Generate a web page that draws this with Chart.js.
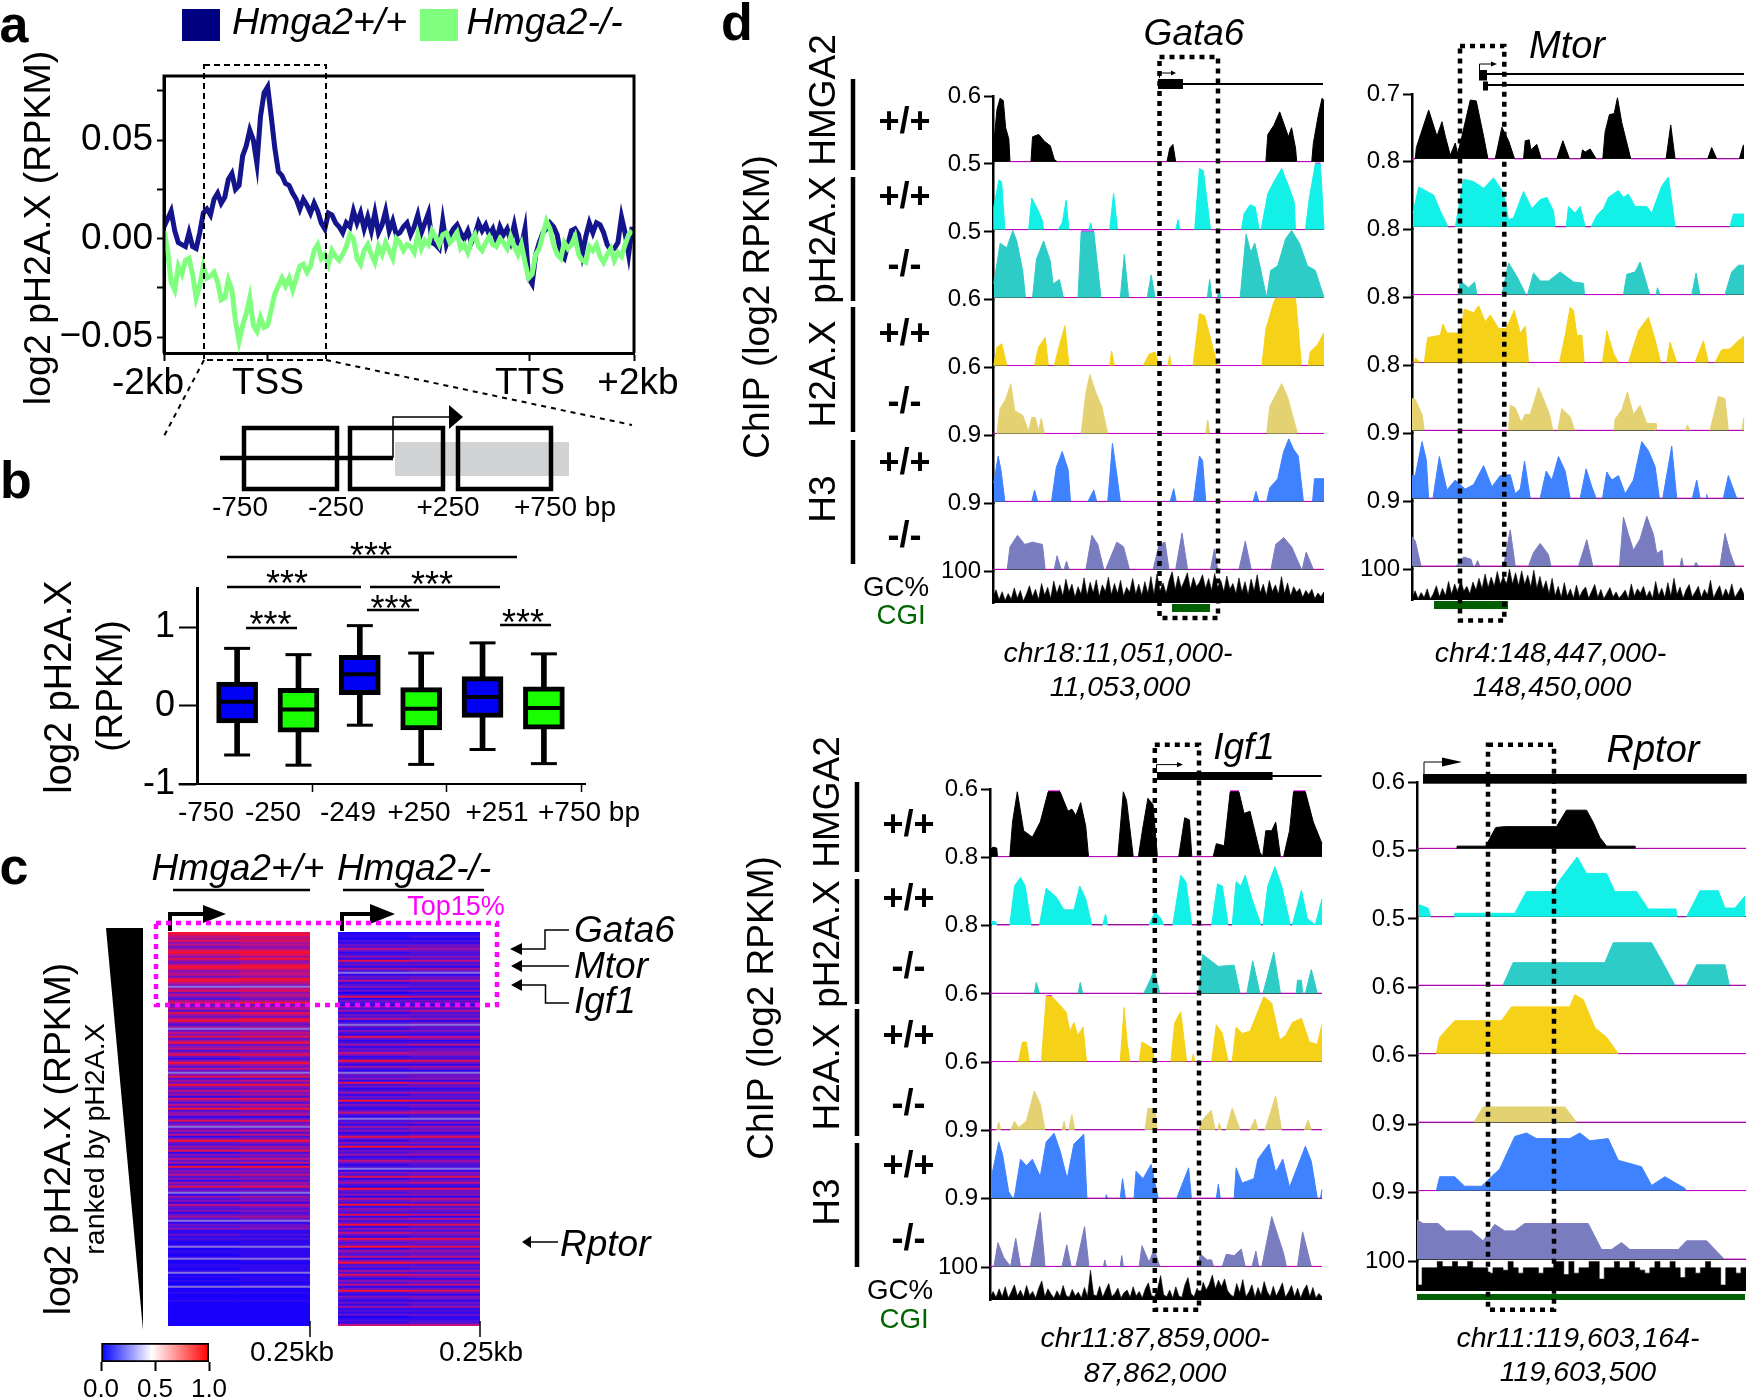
<!DOCTYPE html>
<html>
<head>
<meta charset="utf-8">
<title>pH2A.X ChIP figure</title>
<script src="https://cdn.jsdelivr.net/npm/chart.js@4"></script>
<style>
  html, body { margin: 0; background: #fff; }
  #fig { position: relative; width: 1747px; height: 1399px; overflow: hidden; font-family: "Liberation Sans", Arial, sans-serif; color: #000; }
  #fig canvas { position: absolute; }
  #fig svg { position: absolute; left: 0; top: 0; }
  .t { position: absolute; white-space: nowrap; line-height: 1; }
</style>
</head>
<body>
<div id="fig"></div>
<script>
// ---- panel a: metagene profile, one value per bin, in 0.001 log2 units
const profileTicks = [0, 29, 102.4, 131.5];
const profileWT = [6,10,14,4,-2,-3,-4,3,-4,-5,3,13,15,12,20,23,18,21,30,33,25,27,42,47,55,50,38,62,74,77,62,46,34,32,28,27,23,20,15,20,17,13,18,14,8,5,13,12,8,6,3,8,6,14,8,13,5,11,4,13,3,7,14,4,9,2,3,6,8,2,6,12,3,8,13,-2,-3,-5,9,-3,2,5,7,3,0,4,-2,2,8,4,7,2,5,-1,6,2,5,-1,7,-2,-4,5,-20,-23,-8,-2,3,5,8,6,2,-8,-10,-3,4,5,2,-8,1,8,3,8,7,3,-3,-6,-5,-2,11,3,-8,6];
const profileKO = [4,-6,-22,-26,-14,-18,-11,-10,-18,-30,-24,-14,-20,-19,-17,-22,-31,-30,-21,-26,-42,-52,-44,-38,-30,-44,-47,-40,-45,-44,-36,-28,-24,-20,-24,-20,-26,-20,-14,-13,-17,-14,-6,-3,-10,-8,-13,-6,-9,-11,-8,-4,2,0,-10,-13,-6,-3,-8,-12,-4,-8,-2,-6,-10,0,-2,-6,-3,-4,-7,2,-5,-1,-3,4,1,-3,2,3,-2,0,3,-5,-3,-7,-1,2,-4,-6,-2,1,-3,-4,0,-2,-5,1,-4,-8,-3,-12,-20,-18,-8,-5,2,9,5,-3,-8,-10,-2,-5,-3,1,-8,-11,-12,-4,-6,-3,-9,-12,-8,-5,-11,-7,-9,-3,2,4];

// ---- panel b: box plots
const boxPositions = [1, 2, 3, 4, 5, 6];
const boxQ1 = [-0.22, -0.34, 0.14, -0.31, -0.15, -0.30];
const boxQ3 = [0.30, 0.22, 0.64, 0.23, 0.37, 0.24];
const boxMedian = [0.05, -0.05, 0.40, -0.04, 0.11, -0.03];
const boxLow = [-0.63, -0.76, -0.25, -0.75, -0.56, -0.74];
const boxHigh = [0.73, 0.65, 1.02, 0.67, 0.80, 0.66];
const boxColors = ['#0000f5', '#19ff00', '#0000f5', '#19ff00', '#0000f5', '#19ff00'];
const boxAxisTicks = [-1, 0, 1];
const boxBinTicks = [1.125, 3.32, 5.52];

// ---- panel c: heatmap rows, two bins per gene row (0 = low ... 8 = high, 9 = pale streak)
const heatShades = ['#1800fc', '#3008f0', '#4c10dc', '#6c10c8', '#8a10b4', '#a0109c', '#c01080', '#e01050', '#f81030', '#8a70dc'];
const heatWT_a = [8,7,6,5,7,4,6,3,5,7,8,6,4,7,5,3,6,8,7,4,5,6,3,7,8,6,4,9,5,7,3,6,4,2,5,7,3,4,6,2,
  7,5,3,6,8,4,2,5,9,3,6,4,7,2,5,8,3,4,6,2,5,7,3,1,4,8,5,2,6,3,9,4,7,2,5,3,8,4,2,6,
  3,5,1,7,4,2,6,3,8,2,4,5,1,3,7,2,4,9,3,5,2,6,1,4,8,3,2,5,3,7,1,4,2,6,3,5,1,8,2,4,
  3,6,2,4,1,5,3,7,2,3,9,1,5,2,4,1,6,3,2,4,1,3,5,2,9,1,3,2,4,1,1,3,1,2,1,0,1,9,0,1,
  1,0,1,9,0,0,1,1,0,1,9,0,1,0,1,0,0,9,0,0,1,0,0,0,1,0,0,0,0,0,0,0,0,0,0,0,0];
const heatWT_b = [7,8,6,6,7,5,6,4,5,7,8,7,5,8,5,4,7,8,7,5,6,6,4,8,7,6,4,9,6,7,4,6,5,3,5,8,3,5,6,3,
  7,6,3,7,8,4,3,5,9,4,6,5,7,3,5,8,3,5,6,3,5,7,4,2,4,8,5,3,6,3,9,5,7,2,6,3,8,4,3,6,
  4,5,2,7,5,2,6,4,8,3,4,6,1,3,7,3,4,9,3,6,2,6,2,4,8,4,2,5,4,7,2,4,3,6,3,6,1,8,3,4,
  3,6,3,4,2,5,4,7,2,3,9,2,5,3,4,1,6,4,2,4,2,3,5,3,9,1,3,3,4,1,1,2,1,2,1,1,1,9,1,1,
  1,1,1,9,1,0,1,1,1,1,9,0,1,1,1,0,1,9,0,0,1,0,0,0,1,0,0,0,0,0,0,0,0,0,0,0,0];
const heatKO_a = [0,1,1,0,2,1,3,2,6,3,1,2,4,1,7,2,3,1,5,2,9,1,3,2,6,1,2,4,1,3,0,2,7,1,3,2,1,4,2,5,
  1,3,2,6,1,2,9,3,1,4,2,1,7,3,1,2,5,1,3,2,6,4,1,2,8,3,1,5,2,1,9,3,2,4,1,7,2,3,1,2,
  5,1,3,2,8,1,4,2,1,3,6,2,1,9,2,3,1,5,2,4,1,2,7,3,1,4,2,8,1,3,2,5,1,2,6,3,1,2,9,1,
  4,2,7,1,3,5,2,1,8,3,2,4,1,6,3,2,8,1,4,3,2,7,1,5,2,3,8,1,4,2,6,3,1,7,4,2,3,8,1,5,
  3,2,6,1,4,8,2,3,1,5,2,7,3,1,4,2,6,1,3,8,2,1,4,2,1,3,1,5,1,2,1,3,0,1,2,1,6];
const heatKO_b = [0,1,2,0,2,1,3,3,5,3,2,2,4,2,6,2,3,1,5,3,9,1,3,3,6,2,2,3,1,4,1,2,6,1,3,3,1,4,2,6,
  2,3,2,5,1,3,9,3,2,4,2,1,6,4,1,2,6,1,3,3,5,4,2,2,7,3,1,5,3,1,9,3,3,4,1,6,3,3,1,2,
  5,2,3,2,7,1,4,3,1,4,6,2,2,9,2,4,1,5,3,4,1,3,7,3,2,4,2,7,1,3,3,5,1,2,5,3,2,2,9,1,
  4,3,7,2,3,6,2,1,7,3,3,4,1,6,4,2,7,2,4,3,2,6,1,6,2,3,7,2,4,2,5,3,2,7,4,3,3,7,2,5,
  3,3,6,1,4,7,2,3,2,5,2,6,4,1,4,3,6,1,3,7,3,1,4,3,1,3,2,5,1,2,1,3,1,1,2,2,6];
const scaleStops = ['#0000ff', '#ffffff', '#ff0000'];
const scaleTicks = [0, 0.5, 1];

// ---- panel d: tracks, flat lists of position, signal pairs
const gata6_ticks = ['0.6', '0.5', '0.5', '0.6', '0.6', '0.9', '0.9', '100'];
const gata6_hmga2 = [690,0,692,40,700,115,708,140,716,135,722,75,730,50,733,0,786,0,790,55,806,60,820,45,835,35,845,5,852,0,1130,0,1137,30,1145,38,1152,0,1380,0,1385,60,1400,80,1415,110,1425,85,1437,55,1445,75,1455,30,1458,0,1496,0,1500,40,1512,100,1522,140,1527,135];
const gata6_ph2ax_wt = [692,0,692,50,705,110,712,105,720,0,780,0,788,70,800,50,815,20,818,0,855,0,865,15,875,65,882,0,932,0,937,15,941,0,985,0,995,80,1005,0,1152,0,1158,22,1163,0,1200,0,1212,135,1222,130,1240,0,1318,0,1325,35,1340,55,1353,50,1363,0,1368,0,1385,80,1400,105,1420,135,1440,90,1452,60,1455,0,1480,0,1490,70,1505,145,1518,145,1527,0];
const gata6_ph2ax_ko = [692,30,708,120,725,110,740,148,750,125,765,60,772,0,790,0,800,85,818,125,835,80,842,30,850,35,858,40,868,0,905,0,913,145,945,145,963,0,1012,0,1022,95,1033,0,1080,0,1090,50,1100,0,1232,0,1238,40,1243,0,1257,0,1262,15,1266,0,1315,0,1330,140,1342,100,1352,120,1365,70,1372,40,1382,0,1392,60,1410,70,1430,130,1445,148,1465,120,1485,70,1505,60,1527,0];
const gata6_h2ax_wt = [692,0,700,40,712,48,725,0,795,0,805,40,822,62,830,0,845,0,855,35,872,88,882,0,985,0,990,32,997,0,1070,0,1085,25,1100,30,1110,0,1132,0,1137,22,1140,0,1196,0,1212,115,1225,110,1258,0,1370,0,1380,80,1400,140,1405,148,1455,148,1470,0,1487,0,1492,30,1510,45,1527,72];
const gata6_h2ax_ko = [700,0,708,55,722,75,735,110,745,50,765,40,780,5,788,35,797,35,805,5,812,33,820,0,913,0,925,90,935,130,950,90,965,60,980,0,1228,0,1233,30,1238,0,1382,0,1390,60,1420,110,1435,80,1460,0];
const gata6_h3_wt = [692,40,703,100,710,70,720,0,788,0,795,25,803,0,838,0,850,75,865,110,880,70,886,0,930,0,945,25,952,0,980,0,985,50,992,128,1003,60,1012,0,1138,0,1147,28,1153,0,1197,0,1212,100,1220,90,1228,0,1348,0,1355,22,1362,0,1382,0,1390,30,1410,50,1425,110,1438,138,1450,115,1462,100,1475,0,1498,0,1503,50,1527,50];
const gata6_h3_ko = [726,0,733,50,752,75,770,55,790,60,815,55,822,0,845,0,852,30,862,0,870,0,876,18,882,0,925,0,940,75,955,55,970,0,975,0,1003,60,1020,50,1035,0,1095,0,1110,55,1125,60,1135,0,1152,0,1168,80,1182,0,1240,0,1250,45,1258,0,1312,0,1328,62,1343,0,1393,0,1405,55,1425,70,1445,50,1470,0,1472,0,1482,38,1500,0];
const gata6_gc = [18,42,10,36,8,30,12,48,15,40,6,28,55,20,44,10,62,25,50,14,70,30,58,22,76,35,60,18,52,28,80,24,66,32,74,20,58,36,82,26,62,30,72,22,50,34,78,28,60,24,68,30,84,26,92,38,64,30,72,100,42,86,48,70,96,44,82,52,66,90,46,78,40,94,50,72,36,86,44,62,30,80,34,68,26,76,38,90,32,60,24,72,36,58,28,84,30,64,22,52,34,46,18,40,26,44,14,32,20,36];
const mtor_ticks = ['0.7', '0.8', '0.8', '0.8', '0.8', '0.9', '0.9', '100'];
const mtor_hmga2 = [225,0,228,25,265,108,290,50,305,82,315,50,330,8,345,35,352,10,365,50,390,130,408,128,430,50,443,0,465,0,485,70,505,40,523,0,550,0,555,40,567,42,572,20,590,32,603,0,650,0,668,40,688,0,722,0,727,20,735,15,750,22,768,0,788,0,795,60,808,98,822,100,832,135,845,80,872,0,978,0,992,75,1005,0,1103,0,1115,25,1130,0,1198,0,1210,30,1212,30];
const mtor_ph2ax_wt = [218,30,235,88,260,78,280,70,300,35,323,0,345,0,370,105,400,100,430,85,460,108,490,75,505,15,520,20,550,78,575,40,600,60,620,65,640,35,645,0,678,0,685,45,705,30,720,45,735,0,753,0,770,25,790,40,805,65,835,80,850,65,865,72,885,45,920,45,935,30,965,90,985,110,1005,0,1170,0,1180,28,1212,28];
const mtor_ph2ax_ko = [355,0,360,30,385,15,403,28,410,0,485,0,505,70,530,40,557,0,562,0,580,48,600,30,625,30,660,50,700,28,730,25,733,0,850,0,860,45,885,50,900,72,925,10,930,0,948,0,952,15,960,0,1055,0,1068,48,1080,0,1155,0,1175,50,1195,65,1212,65];
const mtor_h2ax_wt = [222,0,225,10,240,0,252,0,262,55,300,60,308,85,320,65,360,65,372,118,400,110,415,125,435,90,450,105,475,75,498,75,522,115,540,65,555,80,565,0,658,0,675,60,690,122,700,115,710,60,725,60,732,0,787,0,800,70,820,20,835,0,865,0,895,70,925,100,945,50,962,0,980,0,990,45,1010,0,1065,0,1090,48,1105,0,1125,0,1145,28,1170,30,1190,45,1212,58];
const mtor_h2ax_ko = [215,70,225,68,245,35,252,0,505,0,510,55,525,50,543,18,555,35,570,35,595,95,615,60,628,35,638,0,653,0,665,48,690,30,703,0,822,0,825,25,845,45,862,85,880,35,900,55,920,15,948,15,948,0,1037,0,1042,12,1050,0,1110,0,1135,75,1155,70,1165,0,1205,0,1212,28];
const mtor_h3_wt = [215,50,225,50,245,125,258,85,265,0,278,0,297,92,310,50,320,18,345,40,375,20,400,30,430,72,455,25,480,50,510,52,525,10,540,20,553,82,570,0,600,0,618,60,635,40,655,92,675,60,690,0,720,0,738,65,755,25,768,0,787,0,800,58,815,40,835,50,855,10,880,40,905,125,925,105,945,70,958,0,968,0,995,115,1010,0,1057,0,1070,40,1080,0,1098,0,1100,8,1103,0,1150,0,1165,50,1190,0];
const mtor_h3_ko = [215,65,225,55,242,0,348,0,370,20,392,15,398,0,405,0,412,12,418,0,490,0,510,80,525,0,565,0,580,30,600,50,625,25,632,0,715,0,740,58,758,0,838,0,850,108,865,70,880,35,900,60,920,110,940,70,950,28,966,35,970,0,1020,0,1025,18,1030,0,1062,0,1068,8,1075,0,1140,0,1155,72,1170,30,1185,0];
const mtor_gc = [6,30,4,24,8,36,3,20,46,10,38,14,60,18,52,24,66,28,44,20,58,32,70,36,84,40,74,44,92,50,78,48,100,52,88,46,94,50,80,42,96,38,76,34,62,20,70,14,44,8,56,12,36,6,48,10,30,42,6,28,50,8,34,4,22,40,10,26,6,18,32,4,52,12,36,22,44,10,30,6,60,14,38,8,56,12,70,18,42,6,32,50,10,26,44,8,34,16,64,6,28,46,10,36,14,52,8,24,40,18];
const igf1_ticks = ['0.6', '0.8', '0.8', '0.6', '0.6', '0.9', '0.9', '100'];
const igf1_hmga2 = [683,15,690,22,700,20,702,0,733,0,740,80,752,150,768,60,790,45,810,80,830,150,860,150,880,105,890,110,900,95,912,125,925,70,932,0,1006,0,1020,150,1028,130,1045,0,1058,0,1068,60,1082,135,1095,120,1106,0,1160,0,1175,90,1187,85,1193,0,1247,0,1255,30,1275,25,1290,150,1312,150,1325,100,1340,105,1365,10,1372,0,1380,60,1395,60,1405,80,1417,0,1425,0,1440,60,1450,150,1480,150,1500,80,1522,30];
const igf1_ph2ax_wt = [687,8,697,8,700,0,733,0,745,90,760,110,772,90,787,0,808,0,825,85,850,65,870,35,895,35,910,90,925,60,940,0,968,0,975,25,980,0,1085,0,1100,30,1115,15,1122,0,1145,0,1165,115,1178,100,1193,0,1243,0,1258,95,1270,90,1285,0,1295,0,1305,100,1317,90,1328,115,1345,60,1368,0,1373,0,1385,90,1403,135,1420,90,1442,0,1447,0,1470,80,1485,15,1505,0,1522,60];
const igf1_ph2ax_ko = [795,0,800,25,808,0,906,0,911,25,917,0,1072,0,1090,35,1098,55,1112,0,1210,0,1220,90,1260,62,1300,65,1315,0,1332,0,1347,75,1365,0,1373,0,1400,95,1417,0,1457,0,1460,30,1470,30,1473,0,1480,0,1495,55,1510,0];
const igf1_h2ax_wt = [755,0,765,45,775,45,782,0,813,0,825,150,840,150,860,130,875,115,885,70,895,90,905,60,918,80,927,0,1012,0,1022,125,1030,40,1037,0,1060,0,1067,45,1095,30,1098,0,1140,0,1150,90,1165,115,1180,0,1193,0,1197,18,1200,0,1243,0,1255,85,1270,65,1285,0,1295,0,1305,80,1320,65,1340,70,1375,150,1395,135,1415,50,1430,60,1447,90,1470,100,1490,45,1510,40,1522,85];
const igf1_h2ax_ko = [700,0,705,18,710,0,735,0,745,20,755,5,775,20,795,90,810,60,822,0,865,0,870,20,875,0,882,0,890,35,897,0,1075,0,1082,50,1100,48,1105,0,1210,0,1222,25,1242,45,1252,0,1258,0,1262,15,1268,0,1280,0,1295,50,1315,0,1340,0,1353,25,1360,0,1378,0,1405,78,1420,0,1477,0,1487,22,1495,0];
const igf1_h3_wt = [687,50,705,130,715,100,730,15,740,0,745,5,760,90,775,75,790,90,810,50,825,130,845,150,860,110,878,45,895,125,920,148,928,0,975,0,977,8,980,0,1012,0,1018,45,1025,0,1047,0,1052,62,1070,45,1090,78,1108,0,1155,0,1185,70,1192,0,1255,0,1260,32,1265,0,1300,0,1305,70,1320,35,1350,45,1360,90,1388,125,1405,60,1423,90,1440,25,1480,120,1495,85,1510,0,1518,0,1522,20];
const igf1_h3_ko = [693,0,703,55,718,20,735,0,748,65,760,0,785,0,810,125,822,0,865,0,877,50,888,0,900,0,922,92,933,0,970,0,973,15,977,0,1012,0,1016,25,1020,0,1060,0,1067,48,1085,10,1098,40,1112,0,1207,0,1215,28,1232,15,1243,15,1248,0,1270,0,1280,28,1300,25,1318,40,1328,0,1345,0,1355,35,1362,0,1370,0,1395,115,1425,30,1432,0,1460,0,1473,80,1495,0];
const igf1_gc = [6,26,8,34,10,40,6,24,46,12,30,8,44,14,26,6,36,58,10,34,18,6,28,10,44,14,8,32,12,24,6,38,10,90,16,12,42,8,30,50,10,20,36,6,22,30,8,40,12,26,6,34,52,14,10,32,74,16,10,30,6,40,12,8,46,68,20,10,36,14,54,30,48,76,34,60,40,64,28,16,10,50,22,62,10,24,46,8,38,14,56,26,10,42,12,30,52,8,24,44,10,36,6,30,46,10,38,6,20,10];
const rptor_ticks = ['0.6', '0.5', '0.5', '0.6', '0.6', '0.9', '0.9', '100'];
const rptor_hmga2 = [352,0,352,5,438,5,445,15,468,48,495,50,650,50,680,88,740,88,760,60,780,25,800,5,885,5,885,0];
const rptor_ph2ax_wt = [237,28,265,20,273,0,345,0,345,8,525,8,560,58,640,58,660,85,712,138,740,100,800,100,825,58,890,58,925,18,1008,18,1012,0,1040,0,1080,60,1135,60,1155,20,1185,20,1215,48];
const rptor_ph2ax_ko = [490,0,520,52,795,52,820,98,935,98,970,50,1005,0,1040,0,1070,47,1155,47,1168,0];
const rptor_h2ax_wt = [290,0,300,38,345,76,485,76,515,108,690,108,705,136,730,125,765,60,800,38,835,0];
const rptor_h2ax_ko = [403,0,430,35,675,35,710,0];
const rptor_h3_wt = [290,0,300,32,345,32,375,10,425,10,480,50,525,125,560,133,590,120,690,120,720,133,750,115,805,120,835,70,905,55,935,12,975,32,1035,5,1035,0];
const rptor_h3_ko = [232,90,250,82,295,82,320,65,395,65,430,42,465,80,495,65,525,65,555,82,745,82,785,22,815,22,845,38,870,22,1015,22,1040,42,1100,42,1150,2,1150,0];
const rptor_gc = [20,78,78,78,100,82,82,100,82,82,100,78,78,78,60,78,78,70,100,78,60,78,78,78,60,78,78,100,100,55,100,60,78,78,100,100,40,78,78,100,78,78,100,78,70,60,78,100,78,78,100,78,45,78,78,60,78,100,78,78,20,78,78,60,78,78];

const trackColors = ['#000000', '#12f0e8', '#2dccc6', '#f5d118', '#e4d272', '#3f82ff', '#7a7cc0'];
const zeroColor = '#cf00cf';

Chart.defaults.font.family = '"Liberation Sans", Arial, sans-serif';
Chart.defaults.color = '#000';
Chart.defaults.animation = false;
Chart.defaults.responsive = false;
Chart.defaults.devicePixelRatio = 1;
Chart.defaults.plugins.legend.display = false;
Chart.defaults.plugins.tooltip.enabled = false;
Chart.defaults.elements.point.radius = 0;

const fig = document.getElementById('fig');

// puts a chart so its plot area lands on box, margins is room for axes around it
// axisOwned lists sides where an axis box already fills the margin
function mount(box, margins, config, axisOwned) {
  const canvas = document.createElement('canvas');
  canvas.width = Math.round(box.r - box.l + margins.left + margins.right);
  canvas.height = Math.round(box.b - box.t + margins.top + margins.bottom);
  canvas.style.left = (box.l - margins.left) + 'px';
  canvas.style.top = (box.t - margins.top) + 'px';
  fig.appendChild(canvas);
  const padding = Object.assign({}, margins);
  (axisOwned || []).forEach(side => { padding[side] = 0; });
  config.options = config.options || {};
  config.options.layout = { padding: padding };
  return new Chart(canvas.getContext('2d'), config);
}

function text(str, x, y, size, opts) {
  opts = opts || {};
  const el = document.createElement('div');
  el.className = 't';
  el.textContent = str;
  el.style.left = x + 'px';
  el.style.top = y + 'px';
  el.style.fontSize = size + 'px';
  if (opts.bold) el.style.fontWeight = 'bold';
  if (opts.italic) el.style.fontStyle = 'italic';
  if (opts.color) el.style.color = opts.color;
  const ax = opts.left ? '0' : '-50%';
  el.style.transform = 'translate(' + ax + ',-50%)' + (opts.rot ? ' rotate(-90deg)' : '');
  fig.appendChild(el);
}

const fitWidth = w => s => { s.width = w; };
const fitHeight = h => s => { s.height = h; };

// ---- panel a
mount({ l: 164, t: 76, r: 634, b: 353 }, { left: 120, top: 30, right: 4, bottom: 30 }, {
  type: 'line',
  data: {
    datasets: [
      { data: profileKO.map((v, i) => ({ x: i, y: v })), borderColor: '#80ff7f', borderWidth: 5 },
      { data: profileWT.map((v, i) => ({ x: i, y: v })), borderColor: '#14148c', borderWidth: 5, order: 1 }
    ]
  },
  options: {
    scales: {
      x: {
        type: 'linear', min: 0, max: 131.5,
        afterFit: fitHeight(0),
        afterBuildTicks: s => { s.ticks = profileTicks.map(v => ({ value: v })); },
        ticks: { display: false },
        grid: { drawOnChartArea: false, tickLength: 8, tickWidth: 2, tickColor: '#000' },
        border: { color: '#000', width: 3 }
      },
      y: {
        min: -58, max: 82.5,
        afterFit: fitWidth(120),
        afterBuildTicks: s => { s.ticks = [-50, -25, 0, 25, 50, 75].map(v => ({ value: v })); },
        ticks: {
          font: { size: 37 }, padding: 4, autoSkip: false,
          callback: v => v % 50 === 0 ? (v < 0 ? '\u2212' : '') + Math.abs(v / 1000).toFixed(2) : ''
        },
        grid: { drawOnChartArea: false, tickLength: 7, tickWidth: 2, tickColor: '#000' },
        border: { color: '#000', width: 3 }
      }
    }
  }
}, ['left']);

// ---- panel b
const boxAt = (vals, i) => ({ x: boxPositions[i], y: vals[i] });
mount({ l: 197, t: 588, r: 603, b: 784.3 }, { left: 60, top: 30, right: 4, bottom: 30 }, {
  type: 'bar',
  data: {
    datasets: [
      { type: 'scatter', order: 0, data: boxPositions.map((p, i) => boxAt(boxMedian, i)), pointStyle: 'line', pointRadius: 18, borderColor: '#000', borderWidth: 4 },
      { order: 1, grouped: false, barThickness: 41, borderSkipped: false, borderWidth: 5, borderColor: '#000', backgroundColor: boxColors,
        data: boxPositions.map((p, i) => ({ x: p, y: [boxQ1[i], boxQ3[i]] })) },
      { order: 2, grouped: false, barThickness: 5, backgroundColor: '#000',
        data: boxPositions.map((p, i) => ({ x: p, y: [boxLow[i], boxHigh[i]] })) },
      { type: 'scatter', order: 3, data: boxPositions.map((p, i) => boxAt(boxHigh, i)), pointStyle: 'line', pointRadius: 13, borderColor: '#000', borderWidth: 3 },
      { type: 'scatter', order: 3, data: boxPositions.map((p, i) => boxAt(boxLow, i)), pointStyle: 'line', pointRadius: 13, borderColor: '#000', borderWidth: 3 }
    ]
  },
  options: {
    scales: {
      x: {
        type: 'linear', min: 0.346, max: 6.67, offset: false,
        afterFit: fitHeight(0),
        afterBuildTicks: s => { s.ticks = boxBinTicks.map(v => ({ value: v })); },
        ticks: { display: false },
        grid: { drawOnChartArea: false, tickLength: 8, tickWidth: 1.5, tickColor: '#000' },
        border: { color: '#000', width: 2 }
      },
      y: {
        min: -1, max: 1.5,
        afterFit: fitWidth(60),
        afterBuildTicks: s => { s.ticks = boxAxisTicks.map(v => ({ value: v })); },
        ticks: { font: { size: 36 }, padding: 4, autoSkip: false, callback: v => String(v) },
        grid: { drawOnChartArea: false, tickLength: 18, tickWidth: 2, tickColor: '#000' },
        border: { color: '#000', width: 3 }
      }
    }
  }
}, ['left']);

// ---- panel c
function heatmap(box, colA, colB) {
  mount(box, { left: 0, top: 0, right: 0, bottom: 0 }, {
    type: 'bar',
    data: {
      labels: colA.map((v, i) => i + 1),
      datasets: [colA, colB].map(col => ({
        data: col.map(() => 1),
        backgroundColor: col.map(v => heatShades[v]),
        barPercentage: 1, categoryPercentage: 1, borderWidth: 0
      }))
    },
    options: {
      indexAxis: 'y',
      scales: {
        x: { display: false, stacked: true, min: 0, max: 2 },
        y: { display: false, stacked: true }
      }
    }
  });
}
heatmap({ l: 168, t: 932, r: 310, b: 1326 }, heatWT_a, heatWT_b);
heatmap({ l: 338, t: 932, r: 480, b: 1326 }, heatKO_a, heatKO_b);

// colour scale
mount({ l: 101, t: 1343, r: 209, b: 1362 }, { left: 22, top: 2, right: 22, bottom: 38 }, {
  type: 'bar',
  data: {
    labels: ['scale'],
    datasets: [{
      data: [[0, 1]],
      barPercentage: 1, categoryPercentage: 1, borderWidth: 2, borderColor: '#000', borderSkipped: false,
      backgroundColor: ctx => {
        const area = ctx.chart.chartArea;
        if (!area) return scaleStops[0];
        const g = ctx.chart.ctx.createLinearGradient(area.left, 0, area.right, 0);
        g.addColorStop(0, scaleStops[0]);
        g.addColorStop(0.47, scaleStops[1]);
        g.addColorStop(1, scaleStops[2]);
        return g;
      }
    }]
  },
  options: {
    indexAxis: 'y',
    scales: {
      y: { display: false },
      x: {
        min: 0, max: 1,
        afterFit: fitHeight(38),
        afterBuildTicks: s => { s.ticks = scaleTicks.map(v => ({ value: v })); },
        ticks: { font: { size: 26 }, padding: 3, maxRotation: 0, autoSkip: false, callback: v => v.toFixed(1) },
        grid: { drawOnChartArea: false, tickLength: 9, tickWidth: 2, tickColor: '#000' },
        border: { display: false }
      }
    }
  }
}, ['bottom']);

// ---- panel d
function pairs(flat, xMin, xMax) {
  const pts = [];
  for (let i = 0; i < flat.length; i += 2) pts.push({ x: flat[i], y: flat[i + 1] });
  if (pts[0].x > xMin && pts[0].y === 0) pts.unshift({ x: xMin, y: 0 });
  if (pts[pts.length - 1].x < xMax && pts[pts.length - 1].y === 0) pts.push({ x: xMax, y: 0 });
  return pts;
}

function locus(g, tracks, gc, tickLabels, stepped) {
  // stacked axes fill from the last defined at the top, so gc goes in first
  const scales = { x: { type: 'linear', display: false, min: g.xMin, max: g.xMax } };
  scales.gc = {
    type: 'linear', stack: 'tracks', stackWeight: g.gcPx, position: 'left',
    min: 0, max: 100,
    afterFit: fitWidth(70),
    afterBuildTicks: s => { s.ticks = [{ value: 100 }]; },
    ticks: { font: { size: 24 }, callback: () => '' },
    grid: { drawOnChartArea: false, tickLength: 9, tickColor: 'rgba(0,0,0,0)' },
    border: { color: '#000', width: 2.5 }
  };
  const datasets = [];
  tracks.forEach((flat, i) => {
    const pts = pairs(flat, g.xMin, g.xMax);
    datasets.push({
      yAxisID: 't' + i,
      data: pts,
      fill: 'origin',
      clip: false,
      backgroundColor: trackColors[i],
      borderColor: trackColors[i],
      borderWidth: 1,
      segment: {
        borderColor: c => (c.p0.parsed.y === 0 && c.p1.parsed.y === 0) ? zeroColor : undefined
      }
    });
    // clipped peak tops get a magenta cap
    const caps = [];
    pts.forEach((p, j) => {
      if (j && pts[j - 1].y >= g.cap && p.y >= g.cap) caps.push({ x: pts[j - 1].x, y: pts[j - 1].y }, { x: p.x, y: p.y }, { x: p.x, y: null });
    });
    if (caps.length) datasets.push({ yAxisID: 't' + i, data: caps, borderColor: '#ff00ff', borderWidth: 3, clip: false });
  });
  for (let i = tracks.length - 1; i >= 0; i--) {
    const min = -g.drop, max = g.units - g.drop;
    scales['t' + i] = {
      type: 'linear', stack: 'tracks', stackWeight: g.trackPx, position: 'left',
      min: min, max: max,
      afterFit: fitWidth(70),
      afterBuildTicks: s => {
        s.ticks = [{ value: min }, { value: 0 }];
        if (i === 0) s.ticks.push({ value: max });
      },
      ticks: {
        font: { size: 24 }, padding: 3, autoSkip: false,
        callback: v => v === min ? tickLabels[i + 1] : v === max ? tickLabels[0] : ''
      },
      grid: {
        tickLength: 9, lineWidth: 1, tickWidth: 2,
        color: c => c.tick && c.tick.value === 0 ? '#3a3a3a' : 'rgba(0,0,0,0)',
        tickColor: c => c.tick && c.tick.value === 0 ? 'rgba(0,0,0,0)' : '#000'
      },
      border: { color: '#000', width: 2.5 }
    };
  }
  const step = (g.xMax - g.xMin) / (gc.length - 1);
  datasets.push({
    yAxisID: 'gc',
    data: gc.map((v, i) => ({ x: g.xMin + i * step, y: v })),
    fill: 'origin',
    stepped: stepped,
    backgroundColor: '#000',
    borderColor: '#000',
    borderWidth: 0.6
  });
  mount({ l: g.l, t: g.t, r: g.r, b: g.b }, { left: 70, top: 22, right: 1, bottom: 22 }, {
    type: 'line',
    data: { datasets: datasets },
    options: { scales: scales }
  }, ['left']);
}

locus({ l: 992.7, r: 1323.6, t: 96.3, b: 603, xMin: 690, xMax: 1527, units: 150, drop: 5, trackPx: 67.9, gcPx: 31.4, cap: 145 },
  [gata6_hmga2, gata6_ph2ax_wt, gata6_ph2ax_ko, gata6_h2ax_wt, gata6_h2ax_ko, gata6_h3_wt, gata6_h3_ko], gata6_gc, gata6_ticks, false);
locus({ l: 1411.7, r: 1744, t: 93.6, b: 600, xMin: 215, xMax: 1212, units: 150, drop: 6.6, trackPx: 67.9, gcPx: 31, cap: 999 },
  [mtor_hmga2, mtor_ph2ax_wt, mtor_ph2ax_ko, mtor_h2ax_wt, mtor_h2ax_ko, mtor_h3_wt, mtor_h3_ko], mtor_gc, mtor_ticks, false);
locus({ l: 990, r: 1321.6, t: 788.6, b: 1300, xMin: 683, xMax: 1522, units: 158, drop: 1.5, trackPx: 68.4, gcPx: 33, cap: 150 },
  [igf1_hmga2, igf1_ph2ax_wt, igf1_ph2ax_ko, igf1_h2ax_wt, igf1_h2ax_ko, igf1_h3_wt, igf1_h3_ko], igf1_gc, igf1_ticks, false);
locus({ l: 1417.3, r: 1746, t: 782.4, b: 1291.7, xMin: 232, xMax: 1218, units: 158, drop: 5, trackPx: 68.5, gcPx: 29.8, cap: 999 },
  [rptor_hmga2, rptor_ph2ax_wt, rptor_ph2ax_ko, rptor_h2ax_wt, rptor_h2ax_ko, rptor_h3_wt, rptor_h3_ko], rptor_gc, rptor_ticks, true);

// ---- overlay drawing: boxes, gene models, arrows
const ns = 'http://www.w3.org/2000/svg';
const overlay = document.createElementNS(ns, 'svg');
overlay.setAttribute('width', 1747);
overlay.setAttribute('height', 1399);
overlay.innerHTML = `
  <rect x="182" y="9" width="38" height="32" fill="#000080"/>
  <rect x="420" y="9" width="38" height="32" fill="#80ff7f"/>
  <path d="M164 353V76H634V353" fill="none" stroke="#000" stroke-width="3"/>
  <rect x="204" y="65" width="122" height="295" fill="none" stroke="#000" stroke-width="2" stroke-dasharray="6 4"/>
  <path d="M204 360L163 438M326 360L632 425" fill="none" stroke="#000" stroke-width="2" stroke-dasharray="5 5"/>

  <rect x="395" y="442" width="174" height="34" fill="#d1d3d4"/>
  <g fill="none" stroke="#000" stroke-width="4.5">
    <rect x="244" y="428" width="93" height="61"/>
    <rect x="350" y="428" width="93" height="61"/>
    <rect x="458" y="428" width="93" height="61"/>
    <path d="M220 458H393"/>
  </g>
  <path d="M393 458V417H449" fill="none" stroke="#000" stroke-width="1.5"/>
  <path d="M449 405L463 417L449 429Z" fill="#000"/>

  <g stroke="#000" stroke-width="2.5">
    <path d="M227 557H517M227 587H361M370 587H500M367 610H419M246 628H297M500 625H551"/>
  </g>
  <path d="M178.6 784H197" stroke="#000" stroke-width="2"/>

  <path d="M106 928H143V1330Z" fill="#000"/>
  <path d="M173 890H310M343 890H484" stroke="#000" stroke-width="2.5"/>
  <path d="M170 931V914H205M342 931V914H372" fill="none" stroke="#000" stroke-width="4"/>
  <path d="M203 905L226 914L203 923ZM370 904L395 914L370 924Z" fill="#000"/>
  <rect x="156" y="923" width="341" height="82" fill="none" stroke="#ff00ff" stroke-width="4.5" stroke-dasharray="5 5"/>
  <path d="M310 1321V1337M480 1321V1337" stroke="#000" stroke-width="1.5"/>
  <g fill="none" stroke="#000" stroke-width="1.5">
    <path d="M569 930H545V949H522M569 966H522M569 1003H545.5V985H522M558 1242H531"/>
  </g>
  <path d="M522 943L510 949L522 955ZM522 960L511 966L522 972ZM522 979L511 985L522 991ZM531 1236L522 1242L531 1248Z" fill="#000"/>

  <g stroke="#000" stroke-width="4.5">
    <path d="M853 79V170M853 177V301M853 307V432M853 440V564"/>
    <path d="M857 782V872M857 879V1004M857 1009V1136M857 1143V1267"/>
  </g>

  <path d="M1183 84H1323" stroke="#000" stroke-width="2"/>
  <rect x="1158" y="79" width="25" height="10" fill="#000"/>
  <path d="M1159.5 78V73H1172" fill="none" stroke="#000" stroke-width="1"/>
  <path d="M1171 70.5L1176 73L1171 75.5Z" fill="#000"/>
  <rect x="1172" y="604" width="38" height="8" fill="#005f00"/>
  <rect x="1159.5" y="57" width="58.5" height="561" fill="none" stroke="#000" stroke-width="4.5" stroke-dasharray="5 5"/>

  <path d="M1487 74H1744M1487 85H1744" stroke="#000" stroke-width="2"/>
  <rect x="1479" y="70" width="8" height="10.5" fill="#000"/>
  <rect x="1483" y="81.5" width="5" height="9" fill="#000"/>
  <path d="M1479.5 70V64H1492" fill="none" stroke="#000" stroke-width="1"/>
  <path d="M1491 61.5L1497 64L1491 66.5Z" fill="#000"/>
  <rect x="1434" y="601" width="74" height="8" fill="#005f00"/>
  <rect x="1460" y="46" width="44.3" height="574.5" fill="none" stroke="#000" stroke-width="4.5" stroke-dasharray="5 5"/>

  <path d="M1272 776H1321.6" stroke="#000" stroke-width="2"/>
  <rect x="1157" y="772" width="115.6" height="8" fill="#000"/>
  <path d="M1156.5 772V764.6H1178" fill="none" stroke="#000" stroke-width="1"/>
  <path d="M1177 762L1183 764.6L1177 767.2Z" fill="#000"/>
  <rect x="1154.8" y="744.7" width="44.2" height="565" fill="none" stroke="#000" stroke-width="4.5" stroke-dasharray="5 5"/>

  <rect x="1423" y="774" width="323.7" height="9.7" fill="#000"/>
  <path d="M1424 774V762H1445" fill="none" stroke="#000" stroke-width="1"/>
  <path d="M1442 757.5L1462 762L1442 766.5Z" fill="#000"/>
  <rect x="1417" y="1294" width="328" height="6" fill="#005f00"/>
  <rect x="1488" y="744.7" width="66" height="565" fill="none" stroke="#000" stroke-width="4.5" stroke-dasharray="5 5"/>
`;
fig.appendChild(overlay);

// ---- text
text('a', 14, 24, 52, { bold: true });
text('b', 16, 480, 52, { bold: true });
text('c', 14, 866, 52, { bold: true });
text('d', 737, 22, 52, { bold: true });

text('Hmga2+/+', 232, 22, 37.5, { italic: true, left: true });
text('Hmga2-/-', 466.5, 22, 37.5, { italic: true, left: true });
text('log2 pH2A.X (RPKM)', 38, 228, 37.5, { rot: true });
text('-2kb', 148, 381, 37);
text('TSS', 268, 381, 37);
text('TTS', 530, 381, 37);
text('+2kb', 638, 381, 37);

text('-750', 240, 507, 28);
text('-250', 336, 507, 28);
text('+250', 448, 507, 28);
text('+750 bp', 565, 507, 28);

text('log2 pH2A.X', 58, 687, 38, { rot: true });
text('(RPKM)', 109, 686, 37, { rot: true });
const sigStars = [[371, 547], [287, 575], [432, 576], [391.5, 600], [270.5, 616], [523, 614]];
sigStars.forEach(s => text('***', s[0], s[1] + 9, 36));
const boxLabels = [['-750', 206], ['-250', 273], ['-249', 348], ['+250', 419], ['+251', 497], ['+750 bp', 589]];
boxLabels.forEach(l => text(l[0], l[1], 812, 28));

text('Hmga2+/+', 238, 867, 37, { italic: true });
text('Hmga2-/-', 414, 867, 37, { italic: true });
text('Top15%', 456, 906, 27, { color: '#ff00ff' });
text('Gata6', 574, 929, 37, { italic: true, left: true });
text('Mtor', 574, 965, 37, { italic: true, left: true });
text('Igf1', 574, 1000, 37, { italic: true, left: true });
text('Rptor', 560, 1243, 37, { italic: true, left: true });
text('log2 pH2A.X (RPKM)', 58, 1139, 37.3, { rot: true });
text('ranked by pH2A.X', 94, 1139, 28.5, { rot: true });
text('0.25kb', 292, 1352, 28);
text('0.25kb', 481, 1352, 28);

function sideLabels(chipX, markX, chipY, markYs, statX, statYs, gcX, cgiX, gcY, cgiY) {
  text('ChIP (log2 RPKM)', chipX, chipY, 37, { rot: true });
  ['HMGA2', 'pH2A.X', 'H2A.X', 'H3'].forEach((m, i) => text(m, markX, markYs[i], 37, { rot: true }));
  ['+/+', '+/+', '-/-', '+/+', '-/-', '+/+', '-/-'].forEach((s, i) => text(s, statX, statYs[i], 36, { bold: true }));
  text('GC%', gcX, gcY, 27.7);
  text('CGI', cgiX, cgiY, 27.7, { color: '#006400' });
}
sideLabels(756, 822, 307, [100, 240, 374, 499], 904.6, [121, 196, 264, 333, 401, 462, 535], 896, 901, 586.5, 615);
sideLabels(759.5, 826, 1008, [802, 944, 1077, 1202], 908.5, [824, 898, 966, 1035, 1103, 1165, 1237.5], 900, 904, 1289.5, 1318.5);

text('Gata6', 1194, 32, 37, { italic: true });
text('Mtor', 1567, 45, 38, { italic: true });
text('Igf1', 1244, 746, 37, { italic: true });
text('Rptor', 1653, 749, 38, { italic: true });
text('chr18:11,051,000-', 1118, 652, 28.5, { italic: true });
text('11,053,000', 1120, 686, 28.5, { italic: true });
text('chr4:148,447,000-', 1550.5, 652, 28.5, { italic: true });
text('148,450,000', 1552, 686, 28.5, { italic: true });
text('chr11:87,859,000-', 1155, 1337, 28.5, { italic: true });
text('87,862,000', 1155, 1372, 28.5, { italic: true });
text('chr11:119,603,164-', 1578, 1337, 28.5, { italic: true });
text('119,603,500', 1578, 1371, 28.5, { italic: true });
</script>
</body>
</html>
